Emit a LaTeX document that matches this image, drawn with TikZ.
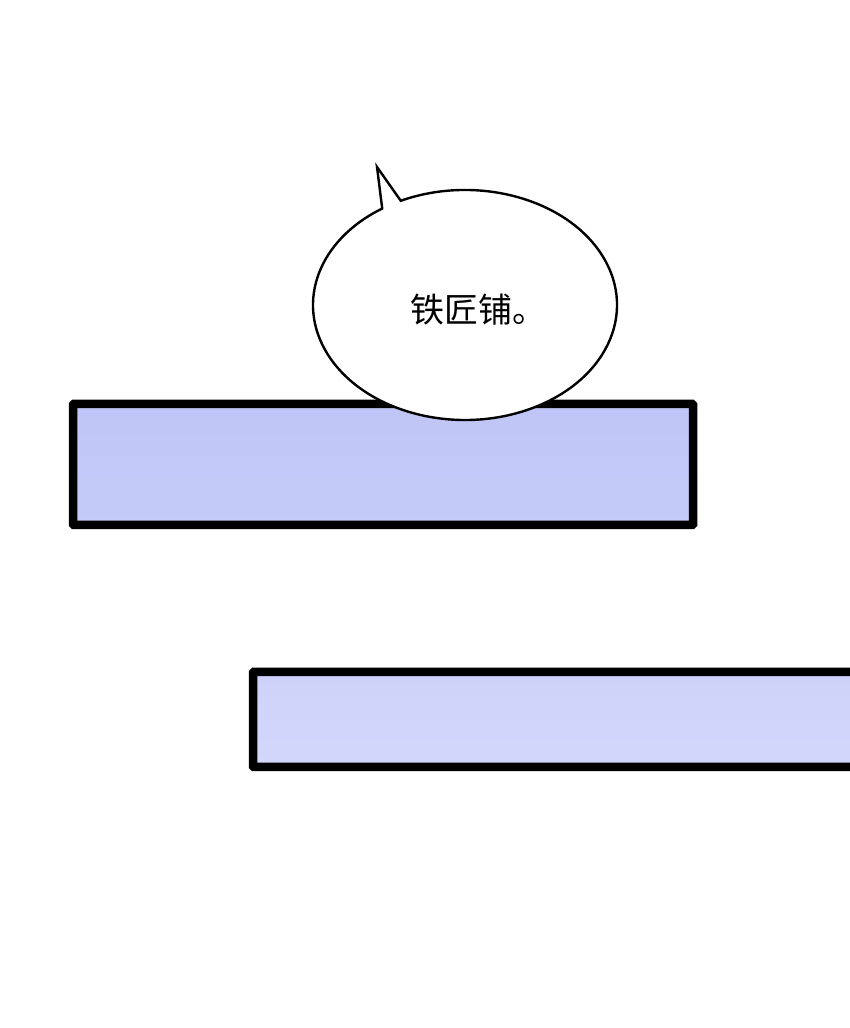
\documentclass[tikz,border=0pt]{standalone}
\usepackage{fontspec}
\usetikzlibrary{calc}
\newfontfamily\cjk{Noto Sans CJK SC}
\definecolor{barA}{RGB}{191,197,246}
\definecolor{barB}{RGB}{197,203,248}
\definecolor{barC}{RGB}{206,210,250}
\definecolor{barD}{RGB}{211,215,251}
\begin{document}
\begin{tikzpicture}[x=1pt,y=1pt,
  bar/.style={line width=8.5pt, rounded corners=1pt, draw=black},
  bubble/.style={draw=black, line width=2.4pt, fill=white, line join=miter},
  saytext/.style={font=\cjk\fontsize{34}{38}\selectfont, inner sep=0pt, anchor=base west}]
\useasboundingbox (0,0) rectangle (850,1028);
\fill[white] (0,0) rectangle (850,1028);
% bars
\draw[bar, top color=barA, bottom color=barB] (73,624) rectangle (693,503);
\draw[bar, top color=barC, bottom color=barD] (253,356) rectangle (860,261);
% speech bubble
\coordinate (c) at (465,723);
\coordinate (tip) at (377,861);
\path[bubble] ($(c)+(115:152 and 115)$) coordinate (rb)
  arc[start angle=115, end angle=-237, x radius=152, y radius=115] coordinate (lb)
  -- (tip) -- cycle;
\node[saytext] (say) at (410,705) {铁匠铺。};
\end{tikzpicture}
\end{document}
